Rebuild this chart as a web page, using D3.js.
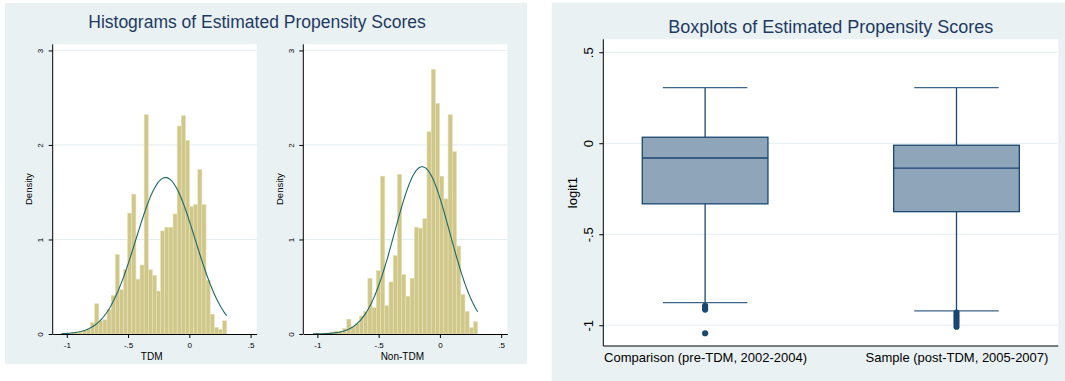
<!DOCTYPE html>
<html>
<head>
<meta charset="utf-8">
<script src="https://cdn.jsdelivr.net/npm/d3@7"></script>
<style>
  body { margin: 0; background: #fff; }
  svg { display: block; font-family: "Liberation Sans", Arial, sans-serif; }
</style>
</head>
<body>
<div id="chart"></div>
<script>
// histogram densities, bins run evenly from min to max of each group
var tdmDensity = [0.01, 0.005, 0.01, 0.02, 0.02, 0.04, 0.05,
  0.12, 0.32, 0.14, 0.15, 0.26, 0.41, 0.84, 0.47, 0.68, 1.28, 1.48, 0.58, 0.73, 2.32,
  0.68, 0.62, 0.455, 1.09, 1.13, 1.13, 1.27, 2.20, 2.31, 2.05, 1.35, 1.37, 1.74, 1.37,
  0.57, 0.21, 0.07, 0.05, 0.14];
var tdmRange = [-1.042, 0.305];
var tdmNormal = {mean: -0.194, sd: 0.241};

var nonTdmDensity = [0.005, 0.005, 0.01, 0.01, 0.02, 0.03, 0.03, 0.06,
  0.157, 0.08, 0.11, 0.19, 0.24, 0.59, 0.28, 0.67, 1.67, 0.30, 0.55, 0.83, 1.69,
  0.63, 0.40, 0.59, 1.13, 1.12, 1.22, 2.14, 2.80, 2.44, 1.67, 1.43, 2.32, 1.93,
  0.93, 0.42, 0.24, 0.07, 0.13];
var nonTdmRange = [-1.036, 0.308];
var nonTdmNormal = {mean: -0.145, sd: 0.2254};

var histXTicks = [-1, -0.5, 0, 0.5];
var histYTicks = [0, 1, 2, 3];

// boxplots: upper whisker, q3, median, q1, lower whisker, outliers
var boxGroups = ['Comparison (pre-TDM, 2002-2004)', 'Sample (post-TDM, 2005-2007)'];
var boxUpper = [0.305, 0.305];
var boxQ3 = [0.033, -0.011];
var boxMedian = [-0.081, -0.137];
var boxQ1 = [-0.333, -0.376];
var boxLower = [-0.876, -0.921];
var boxOutliers = [[-0.893, -0.904, -0.914, -1.044], [-0.93, -0.945, -0.96, -0.975, -0.99, -1.008]];
var boxYTicks = [0.5, 0, -0.5, -1];

var navy = '#1a476f', khaki = '#d0c78b', teal = '#1f6868';
var panelBg = '#eaf1f3', gridColor = '#e4edf0', titleColor = '#1e3a62';

var svg = d3.select('#chart').append('svg').attr('width', 1065).attr('height', 381);

function stataFmt(d) {
  if (d === 0) return '0';
  return String(d).replace('0.', '.');
}

// panel backgrounds
svg.append('rect').attr('x', 5).attr('y', 3).attr('width', 522).attr('height', 361).attr('fill', panelBg);
svg.append('rect').attr('x', 551.7).attr('y', 2.7).attr('width', 514).attr('height', 379).attr('fill', panelBg);

svg.append('text')
  .attr('x', 257).attr('y', 28)
  .attr('text-anchor', 'middle')
  .attr('font-size', 17.5)
  .attr('fill', titleColor)
  .text('Histograms of Estimated Propensity Scores');

function drawHist(left, right, density, range, normal, label) {
  var top = 44.3, bottom = 334;
  var x = d3.scaleLinear().domain([-1.115, 0.55]).range([left, right]);
  var y = d3.scaleLinear().domain([0, 3.065]).range([bottom, top]);
  var g = svg.append('g');

  g.append('rect').attr('x', left).attr('y', top)
    .attr('width', right - left).attr('height', bottom - top).attr('fill', '#fff');

  g.append('g').selectAll('line')
    .data(histYTicks.slice(1))
    .enter().append('line')
    .attr('x1', left).attr('x2', right)
    .attr('y1', function (d) { return y(d); })
    .attr('y2', function (d) { return y(d); })
    .attr('stroke', gridColor).attr('stroke-width', 1);

  var bw = (range[1] - range[0]) / density.length;
  g.append('g').selectAll('rect')
    .data(density)
    .enter().append('rect')
    .attr('x', function (d, i) { return x(range[0] + i * bw); })
    .attr('width', function (d, i) { return x(range[0] + (i + 1) * bw) - x(range[0] + i * bw); })
    .attr('y', function (d) { return y(d); })
    .attr('height', function (d) { return y(0) - y(d); })
    .attr('fill', khaki)
    .attr('stroke', '#e7e1b8')
    .attr('stroke-width', 0.6);

  // fitted normal density
  var pts = d3.range(0, 121).map(function (i) {
    var v = range[0] + (range[1] - range[0]) * i / 120;
    var z = (v - normal.mean) / normal.sd;
    return [v, Math.exp(-0.5 * z * z) / (normal.sd * Math.sqrt(2 * Math.PI))];
  });
  g.append('path')
    .datum(pts)
    .attr('fill', 'none')
    .attr('stroke', teal)
    .attr('stroke-width', 1.1)
    .attr('d', d3.line().x(function (d) { return x(d[0]); }).y(function (d) { return y(d[1]); }));

  var xa = g.append('g')
    .attr('transform', 'translate(0,' + bottom + ')')
    .call(d3.axisBottom(x).tickValues(histXTicks).tickFormat(stataFmt).tickSize(4).tickSizeOuter(0));
  xa.selectAll('text').attr('y', 14.3).attr('dy', 0).attr('font-size', 8).attr('fill', '#000');

  var ya = g.append('g')
    .attr('transform', 'translate(' + left + ',0)')
    .call(d3.axisLeft(y).tickValues(histYTicks).tickFormat(stataFmt).tickSize(4).tickSizeOuter(0));
  ya.selectAll('text')
    .attr('transform', 'rotate(-90)')
    .attr('x', 0).attr('y', -9.4).attr('dy', 0)
    .attr('text-anchor', 'middle')
    .attr('font-size', 8).attr('fill', '#000');
  ya.select('.domain').attr('d', 'M0,' + bottom + 'V' + top);

  g.selectAll('.domain, .tick line').attr('stroke', '#000').attr('stroke-width', 1);

  g.append('text')
    .attr('transform', 'translate(' + (left - 20.7) + ',' + ((top + bottom) / 2) + ') rotate(-90)')
    .attr('text-anchor', 'middle')
    .attr('font-size', 9.5)
    .text('Density');

  g.append('text')
    .attr('x', (left + right) / 2 - 3).attr('y', 360)
    .attr('text-anchor', 'middle')
    .attr('font-size', 10)
    .text(label);
}

drawHist(52.7, 256.7, tdmDensity, tdmRange, tdmNormal, 'TDM');
drawHist(303.3, 507.3, nonTdmDensity, nonTdmRange, nonTdmNormal, 'Non-TDM');

// boxplot panel
var bLeft = 603.3, bRight = 1058.3, bTop = 39.3, bBottom = 346;
var bx = d3.scalePoint().domain(boxGroups).range([bLeft, bRight]).padding(0.405);
var by = d3.scaleLinear().domain([-1.114, 0.571]).range([bBottom, bTop]);
var step = bx.step();
var bg = svg.append('g');

svg.append('text')
  .attr('x', (bLeft + bRight) / 2).attr('y', 32.7)
  .attr('text-anchor', 'middle')
  .attr('font-size', 18)
  .attr('fill', titleColor)
  .text('Boxplots of Estimated Propensity Scores');

bg.append('rect').attr('x', bLeft).attr('y', bTop)
  .attr('width', bRight - bLeft).attr('height', bBottom - bTop).attr('fill', '#fff');

bg.append('g').selectAll('line')
  .data(boxYTicks)
  .enter().append('line')
  .attr('x1', bLeft).attr('x2', bRight)
  .attr('y1', function (d) { return by(d); })
  .attr('y2', function (d) { return by(d); })
  .attr('stroke', gridColor).attr('stroke-width', 1);

var boxes = bg.append('g').selectAll('g')
  .data(boxGroups)
  .enter().append('g');

var halfBox = step * 0.25, halfCap = step * 0.168;

boxes.append('line')
  .attr('x1', function (d) { return bx(d); }).attr('x2', function (d) { return bx(d); })
  .attr('y1', function (d, i) { return by(boxUpper[i]); })
  .attr('y2', function (d, i) { return by(boxLower[i]); })
  .attr('stroke', navy).attr('stroke-width', 1.3);

boxes.append('rect')
  .attr('x', function (d) { return bx(d) - halfBox; })
  .attr('width', halfBox * 2)
  .attr('y', function (d, i) { return by(boxQ3[i]); })
  .attr('height', function (d, i) { return by(boxQ1[i]) - by(boxQ3[i]); })
  .attr('fill', '#8ea5ba')
  .attr('stroke', navy).attr('stroke-width', 1.3);

boxes.append('line')
  .attr('x1', function (d) { return bx(d) - halfBox; }).attr('x2', function (d) { return bx(d) + halfBox; })
  .attr('y1', function (d, i) { return by(boxMedian[i]); })
  .attr('y2', function (d, i) { return by(boxMedian[i]); })
  .attr('stroke', navy).attr('stroke-width', 1.3);

[boxUpper, boxLower].forEach(function (arr) {
  boxes.append('line')
    .attr('x1', function (d) { return bx(d) - halfCap; }).attr('x2', function (d) { return bx(d) + halfCap; })
    .attr('y1', function (d, i) { return by(arr[i]); })
    .attr('y2', function (d, i) { return by(arr[i]); })
    .attr('stroke', '#3f6589').attr('stroke-width', 1.3);
});

boxes.selectAll('circle')
  .data(function (d, i) { return boxOutliers[i].map(function (v) { return {g: d, v: v}; }); })
  .enter().append('circle')
  .attr('cx', function (d) { return bx(d.g); })
  .attr('cy', function (d) { return by(d.v); })
  .attr('r', 3.1)
  .attr('fill', navy);

var bya = bg.append('g')
  .attr('transform', 'translate(' + bLeft + ',0)')
  .call(d3.axisLeft(by).tickValues(boxYTicks).tickFormat(stataFmt).tickSize(4).tickSizeOuter(0));
bya.select('.domain').attr('d', 'M0,' + bBottom + 'V' + bTop);
bya.selectAll('text')
  .attr('transform', 'rotate(-90)')
  .attr('x', 0).attr('y', -10).attr('dy', 0)
  .attr('text-anchor', 'middle')
  .attr('font-size', 13).attr('fill', '#000');

var bxa = bg.append('g')
  .attr('transform', 'translate(0,' + bBottom + ')')
  .call(d3.axisBottom(bx).tickSize(0).tickSizeOuter(0));
bxa.select('.domain').attr('d', 'M' + bLeft + ',0H' + bRight);
bxa.selectAll('text').attr('y', 16).attr('dy', 0).attr('font-size', 13).attr('fill', '#000');

bg.selectAll('.domain, .tick line').attr('stroke', '#000').attr('stroke-width', 1);

bg.append('text')
  .attr('transform', 'translate(577,' + ((bTop + bBottom) / 2) + ') rotate(-90)')
  .attr('text-anchor', 'middle')
  .attr('font-size', 13)
  .text('logit1');
</script>
</body>
</html>
